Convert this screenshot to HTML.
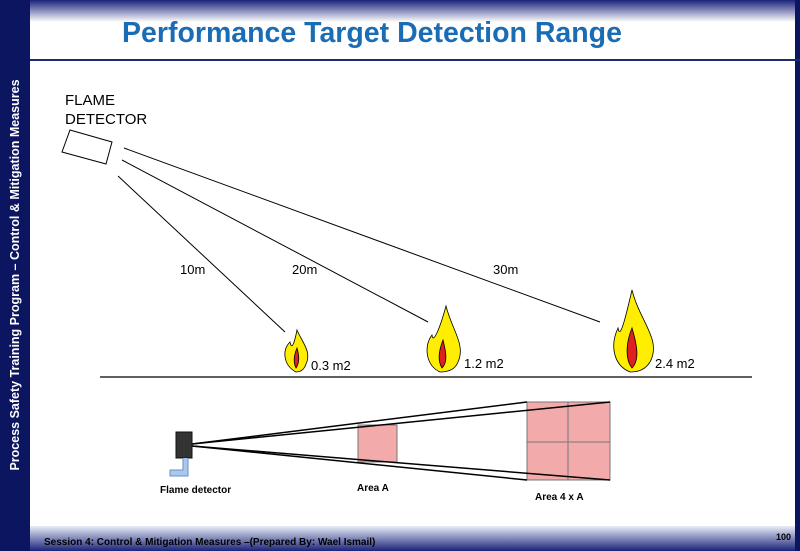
<!DOCTYPE html>
<html><head><style>
body{margin:0;width:800px;height:551px;overflow:hidden;background:#fff;font-family:"Liberation Sans",sans-serif;position:relative}
.l{position:absolute;left:0;top:0;width:30px;height:551px;background:#0c1560}
.vt{position:absolute;left:15px;top:275px;transform:translate(-50%,-50%) rotate(-90deg);white-space:nowrap;color:#fff;font-weight:bold;font-size:12.5px}
.top{position:absolute;left:30px;top:0;width:770px;height:22px;background:linear-gradient(#1a237a,#fff)}
.r{position:absolute;right:0;top:0;width:5px;height:551px;background:#0c1560}
.bot{position:absolute;left:30px;top:526px;width:770px;height:25px;background:linear-gradient(#e8eef8,#1a237a)}
.t{position:absolute;left:122px;top:17px;color:#1a6cb4;font-weight:bold;font-size:28.5px;white-space:nowrap}
.hl{position:absolute;left:30px;top:59px;width:770px;height:2px;background:#1b2b6b}
.f{position:absolute;font-size:10px;font-weight:bold;color:#000;top:537px;left:44px}
.n{position:absolute;font-size:9px;font-weight:bold;top:532px;left:776px}
</style></head><body>
<div class="top"></div><div class="bot"></div><div class="l"><div class="vt">Process Safety Training Program – Control &amp; Mitigation Measures</div></div><div class="r"></div>
<div class="t">Performance Target Detection Range</div><div class="hl"></div>
<svg width="800" height="551" style="position:absolute;left:0;top:0" font-family="Liberation Sans, sans-serif">
<text x="65" y="105" font-size="15">FLAME</text><text x="65" y="124" font-size="15">DETECTOR</text>
<polygon points="70,130 112,142 106,164 62,152" fill="#fff" stroke="#000" stroke-width="1"/>
<g stroke="#000" stroke-width="1">
<line x1="118" y1="176" x2="285" y2="332"/><line x1="122" y1="160" x2="428" y2="322"/><line x1="124" y1="148" x2="600" y2="322"/>
<line x1="100" y1="377" x2="752" y2="377" stroke-width="1.3"/></g>
<text x="180" y="274" font-size="13">10m</text><text x="292" y="274" font-size="13">20m</text><text x="493" y="274" font-size="13">30m</text>
<g stroke="#000" stroke-width="0.8">
<path d="M296,372 C283,365 282,350 290,342 C292,352 295,340 297,330 C302,342 312,352 306,364 C304,370 300,372 296,372Z" fill="#ffee00"/>
<path d="M296,368 C293,362 294,355 297,348 C299,355 300,362 296,368Z" fill="#e02020"/>
<path d="M440,372 C425,365 424,345 432,335 C433,345 440,328 446,306 C452,330 466,345 458,362 C455,370 448,372 440,372Z" fill="#ffee00"/>
<path d="M442,368 C437,360 439,350 443,340 C446,352 448,362 442,368Z" fill="#e02020"/>
<path d="M630,372 C613,365 610,345 618,328 C620,340 625,320 632,290 C640,322 662,340 650,362 C645,370 638,372 630,372Z" fill="#ffee00"/>
<path d="M632,368 C624,358 627,340 632,328 C637,345 640,360 632,368Z" fill="#e02020"/>
</g>
<text x="311" y="370" font-size="13">0.3 m2</text><text x="464" y="368" font-size="13">1.2 m2</text><text x="655" y="368" font-size="13">2.4 m2</text>
<rect x="358" y="425" width="39" height="37" fill="#f2aaaa" stroke="#777"/>
<rect x="527" y="402" width="83" height="78" fill="#f2aaaa" stroke="#777"/>
<line x1="568" y1="402" x2="568" y2="480" stroke="#777"/><line x1="527" y1="442" x2="610" y2="442" stroke="#777"/>
<g stroke="#000" stroke-width="1.5"><line x1="192" y1="444" x2="527" y2="402"/><line x1="192" y1="444" x2="610" y2="402"/><line x1="192" y1="446" x2="527" y2="480"/><line x1="192" y1="446" x2="610" y2="480"/></g>
<rect x="176" y="432" width="16" height="26" fill="#333" stroke="#111"/>
<path d="M183,458 V470 H170 V476 H188 V458" fill="#a8c8f0" stroke="#6a8fc0"/>
<text x="160" y="493" font-size="10" font-weight="bold">Flame detector</text>
<text x="357" y="491" font-size="10" font-weight="bold">Area A</text>
<text x="535" y="500" font-size="10" font-weight="bold">Area  4 x A</text>
</svg>
<div class="f">Session 4: Control &amp; Mitigation Measures –(Prepared By: Wael Ismail)</div><div class="n">100</div>
</body></html>
